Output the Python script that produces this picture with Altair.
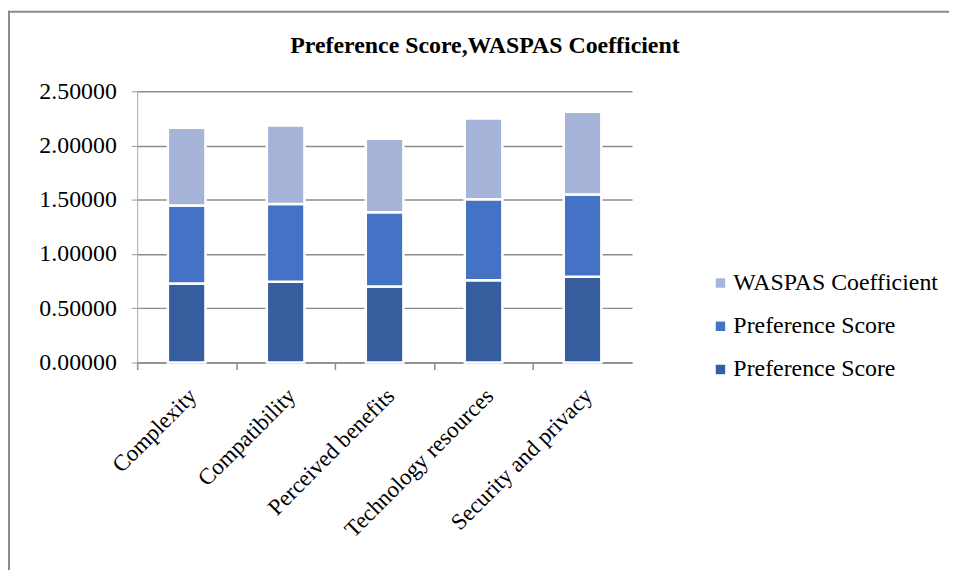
import altair as alt
import pandas as pd

categories = ["Complexity", "Compatibility", "Perceived benefits",
              "Technology resources", "Security and privacy"]
pref_score_1 = [0.728, 0.744, 0.701, 0.759, 0.790]
pref_score_2 = [0.720, 0.716, 0.683, 0.746, 0.758]
waspas_coef = [0.716, 0.725, 0.679, 0.744, 0.762]

# the two "Preference Score" series share a visible name; a trailing space keeps them distinct
series_keys = ["Preference Score", "Preference Score ", "WASPAS Coefficient"]
series_values = [pref_score_1, pref_score_2, waspas_coef]
series_colors = ["#365E9F", "#4472C4", "#A7B4D9"]
y_ticks = [0.0, 0.5, 1.0, 1.5, 2.0, 2.5]
title_text = "Preference Score,WASPAS Coefficient"

rows = []
for order, (key, vals) in enumerate(zip(series_keys, series_values)):
    for cat, v in zip(categories, vals):
        rows.append({"category": cat, "series": key, "value": v, "order": order})
df = pd.DataFrame(rows)

SERIF = "Liberation Serif"
W, H = 498, 273
step = W / len(categories)

bars = alt.Chart(df).mark_bar(stroke="white", strokeWidth=2.5).encode(
    x=alt.X("category:N", sort=categories,
            scale=alt.Scale(paddingInner=0.62, paddingOuter=0.31),
            axis=alt.Axis(title=None, labelAngle=-45, labelAlign="right",
                          labelBaseline="top", labelFont=SERIF, labelFontSize=23,
                          labelColor="black", labelPadding=15, tickSize=7,
                          tickColor="#8c8c8c", tickWidth=1.5,
                          tickOffset=-step / 2, labelOffset=step / 2 - 2,
                          domainColor="#8c8c8c", domainWidth=1.5,
                          labelLimit=400)),
    y=alt.Y("value:Q", stack="zero",
            scale=alt.Scale(domain=[0, 2.5], nice=False),
            axis=alt.Axis(title=None, values=y_ticks, format=".5f",
                          labelFont=SERIF, labelFontSize=24, labelColor="black",
                          labelPadding=15, tickSize=6, tickColor="#9a9a9a",
                          domainColor="#a6a6a6", domainWidth=1,
                          gridColor="#8c8c8c", gridWidth=1.5)),
    color=alt.Color("series:N",
                    scale=alt.Scale(domain=series_keys[::-1], range=series_colors[::-1]),
                    legend=alt.Legend(title=None, orient="none", legendX=575, legendY=181,
                                      symbolType="square", symbolSize=90,
                                      symbolStrokeWidth=0, labelFont=SERIF,
                                      labelFontSize=24, labelColor="black",
                                      labelOffset=1, rowPadding=19.5, padding=0,
                                      labelLimit=400)),
    order=alt.Order("order:Q", sort="ascending"),
)

frame_src = alt.Data(values=[{"f": 1}])
frame_left = alt.Chart(frame_src).mark_rule(stroke="#8c8c8c", strokeWidth=2).encode(
    x=alt.value(-129), y=alt.value(-81), y2=alt.value(600))
frame_top = alt.Chart(frame_src).mark_rule(stroke="#8c8c8c", strokeWidth=2).encode(
    x=alt.value(-130), x2=alt.value(900), y=alt.value(-80))

chart = alt.layer(frame_left, frame_top, bars).properties(
    width=W, height=H,
    title=alt.TitleParams(title_text, font=SERIF, fontSize=24, fontWeight="bold",
                          color="black", anchor="middle", frame="group",
                          dx=101, dy=67, offset=0, baseline="alphabetic"),
    autosize=alt.AutoSizeParams(type="none"),
    padding={"left": 130, "top": 82, "right": 319, "bottom": 207},
).configure(font=SERIF).configure_view(stroke=None)

chart.save("out.html", embed_options={"renderer": "svg", "actions": False})
